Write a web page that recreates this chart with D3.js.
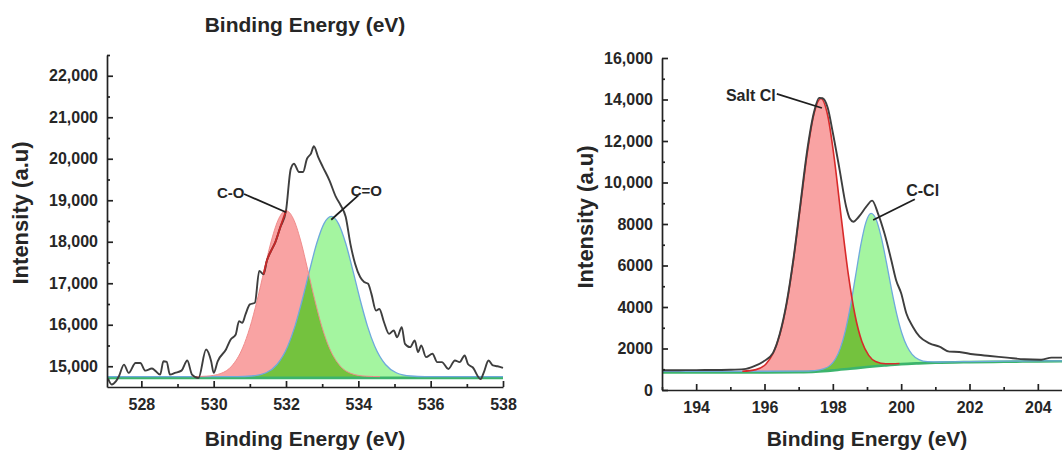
<!DOCTYPE html>
<html>
<head>
<meta charset="utf-8">
<script src="https://cdn.jsdelivr.net/npm/d3@7"></script>
<style>
body { margin: 0; background: #fff; }
text { font-family: "Liberation Sans", Arial, sans-serif; font-weight: bold; fill: #262626; }
</style>
</head>
<body>
<script>
// ---- O 1s panel (left) ----
var o1sRawX = [527.08,527.18,527.3,527.38,527.52,527.65,527.84,527.97,528.11,528.29,528.38,528.52,528.61,528.7,528.79,528.93,529.11,529.27,529.4,529.58,529.79,529.93,530.0,530.11,530.34,530.47,530.61,530.7,530.79,530.88,531.0,531.14,531.26,531.38,531.47,531.61,531.7,531.84,532.0,532.13,532.22,532.36,532.47,532.58,532.69,532.77,532.89,533.02,533.2,533.38,533.51,533.65,533.78,533.91,534.05,534.16,534.27,534.36,534.49,534.58,534.71,534.85,534.98,535.07,535.2,535.29,535.43,535.56,535.65,535.74,535.87,536.05,536.18,536.31,536.49,536.67,536.8,536.94,537.03,537.16,537.38,537.47,537.6,537.72,537.85,538.0];
var o1sRawY = [14700,14560,14640,14758,15040,14840,15080,15080,14895,14944,14895,14800,15120,15105,14800,14840,14895,15137,14800,14718,15403,15120,14840,15120,15403,15645,15766,16088,16048,16250,16490,16530,17297,17216,17540,17820,17980,18345,18750,19750,19880,19680,19680,20000,20125,20300,20040,19800,19480,19080,18880,18600,17950,17470,17150,17030,16990,16750,16340,16380,16060,15780,15860,15700,15940,15540,15460,15620,15340,15500,15220,15300,15100,15100,14935,15140,15100,15260,15055,14975,14690,14855,15140,15020,15000,14960];
// raw trace drawn in red where it runs along the C-O edge
var o1sRedSegment = [531.38, 532.0];

var coX = [529.4,529.8,530.2,530.5,530.8,531.0,531.2,531.4,531.6,531.8,532.0,532.2,532.4,532.6,532.8,533.0,533.2,533.5,533.8,534.2,534.6];
var coY = [14750,14761,14827,15006,15440,15930,16582,17327,18041,18559,18750,18559,18041,17327,16582,15930,15440,15006,14827,14761,14750];

var c2oX = [527.05,530.65,531.05,531.45,531.75,532.05,532.25,532.45,532.65,532.85,533.05,533.25,533.45,533.65,533.85,534.05,534.25,534.45,534.75,535.05,535.45,535.85,538.0];
var c2oY = [14750,14752,14765,14844,15042,15489,15974,16602,17304,17963,18437,18610,18437,17963,17304,16602,15974,15489,15042,14844,14765,14752,14750];

var o1sBaseX = [527.05, 538.0];
var o1sBaseY = [14720, 14720];

var o1sXTicks = [528,530,532,534,536,538];
var o1sXMinor = [529,531,533,535,537];
var o1sYTicks = [15000,16000,17000,18000,19000,20000,21000,22000];
var o1sYMinor = [15500,16500,17500,18500,19500,20500,21500,22500];

var o1sLabels = ["C-O", "C=O"];
var o1sLabelX = [530.47, 534.22];
var o1sLabelY = [19190, 19240];
var o1sLeadX1 = [530.84, 534.0], o1sLeadY1 = [19150, 19118];
var o1sLeadX2 = [532.0, 533.25], o1sLeadY2 = [18710, 18530];

// ---- Cl 2p panel (right) ----
var cl2pRawX = [193.0,193.5,194.0,194.5,195.0,195.4,195.7,195.96,196.25,196.45,196.65,196.85,197.05,197.25,197.45,197.6,197.7,197.85,198.0,198.2,198.39,198.5,198.6,198.76,198.98,199.15,199.32,199.51,199.71,199.85,200.0,200.15,200.34,200.54,200.83,201.12,201.41,201.7,202.1,202.6,203.1,203.6,204.1,204.4,204.7,205.0];
var cl2pRawY = [955,955,960,965,975,1005,1150,1365,1790,2720,4220,6350,8950,11550,13400,14080,14060,13600,12400,10600,8835,8250,8110,8350,8835,9125,8515,7550,6265,5300,4660,3700,3050,2570,2250,2090,1850,1830,1720,1640,1560,1480,1460,1560,1560,1520];

var saltX = [195.35,195.75,196.05,196.25,196.45,196.65,196.85,197.05,197.25,197.45,197.65,197.85,198.05,198.25,198.45,198.65,198.85,199.05,199.25,199.55,199.95];
var saltY = [900,981,1269,1758,2672,4166,6287,8850,11408,13318,14045,13227,11057,8256,5610,3603,2338,1670,1378,1266,1280];

var cclX = [193.0,195.0,197.12,197.47,197.72,197.92,198.07,198.22,198.37,198.52,198.67,198.82,198.97,199.12,199.27,199.42,199.57,199.72,199.87,200.02,200.17,200.32,200.52,200.77,201.12,201.5,202.0,203.0,204.0,205.0];
var cclY = [900,902,908,936,1014,1187,1483,2018,2877,4090,5549,7001,8089,8509,8208,7345,6133,4830,3659,2738,2105,1719,1467,1366,1350,1358,1372,1387,1400,1410];

var cl2pBaseX = [193,196,197,197.5,198,198.5,199,199.5,200,200.5,201,202,203,204,205];
var cl2pBaseY = [840,850,862,885,945,1025,1105,1180,1245,1285,1315,1345,1362,1378,1390];

var cl2pXTicks = [194,196,198,200,202,204];
var cl2pXMinor = [193,195,197,199,201,203,205];
var cl2pYTicks = [0,2000,4000,6000,8000,10000,12000,14000,16000];
var cl2pYMinor = [1000,3000,5000,7000,9000,11000,13000,15000];

var cl2pLabels = ["Salt Cl", "C-Cl"];
var cl2pLabelX = [195.6, 200.63];
var cl2pLabelY = [14220, 9640];
var cl2pLeadX1 = [196.36, 200.4], cl2pLeadY1 = [14270, 9190];
var cl2pLeadX2 = [197.68, 199.18], cl2pLeadY2 = [13590, 8190];

var width = 1062, height = 453;

var svg = d3.select("body").append("svg")
    .attr("width", width)
    .attr("height", height);

function zip(xs, ys) {
  return xs.map(function(v, i) { return [v, ys[i]]; });
}

function bigFormat(d) {
  return d >= 10000 ? d3.format(",")(d) : d3.format("d")(d);
}

function drawPanel(p) {
  var x = d3.scaleLinear().domain(p.xDomain).range(p.xRange);
  var y = d3.scaleLinear().domain(p.yDomain).range(p.yRange);
  // piecewise-linear background (green line) under the peaks
  var base = d3.scaleLinear().domain(p.baseX).range(p.baseY).clamp(true);

  var g = svg.append("g").attr("class", p.id);

  var line = d3.line()
      .x(function(d) { return x(d[0]); })
      .y(function(d) { return y(d[1]); })
      .curve(d3.curveMonotoneX);
  var area = d3.area()
      .x(function(d) { return x(d[0]); })
      .y0(function(d) { return y(base(d[0])); })
      .y1(function(d) { return y(d[1]); })
      .curve(d3.curveMonotoneX);

  var peakA = zip(p.peakAX, p.peakAY),
      peakB = zip(p.peakBX, p.peakBY),
      raw = zip(p.rawX, p.rawY),
      bg = zip(p.baseX, p.baseY);

  g.append("clipPath").attr("id", p.id + "-red")
    .append("path").attr("d", area(peakA));

  g.append("path").attr("d", area(peakA)).attr("fill", "#f9a3a3");
  g.append("path").attr("d", area(peakB)).attr("fill", "#a4f5a0");
  // overlap of the two components
  g.append("path").attr("d", area(peakB)).attr("fill", "#74c23e")
    .attr("clip-path", "url(#" + p.id + "-red)");

  g.append("path").attr("d", line(bg))
    .attr("fill", "none").attr("stroke", "#3cb46c").attr("stroke-width", 2.6);
  g.append("path").attr("d", line(peakB))
    .attr("fill", "none").attr("stroke", "#6ea9dc").attr("stroke-width", 1.3);
  g.append("path").attr("d", line(peakA))
    .attr("fill", "none").attr("stroke", p.redEdge).attr("stroke-width", p.redEdgeWidth);

  g.append("path").attr("d", line(raw))
    .attr("fill", "none").attr("stroke", "#3e3e3e").attr("stroke-width", 1.9)
    .attr("stroke-linejoin", "round");
  if (p.redSegment) {
    var seg = raw.filter(function(d) { return d[0] >= p.redSegment[0] && d[0] <= p.redSegment[1]; });
    g.append("path").attr("d", line(seg))
      .attr("fill", "none").attr("stroke", "#c62828").attr("stroke-width", 1.9);
  }

  // peak labels with leader lines
  p.labels.forEach(function(t, i) {
    g.append("line")
      .attr("x1", x(p.leadX1[i])).attr("y1", y(p.leadY1[i]))
      .attr("x2", x(p.leadX2[i])).attr("y2", y(p.leadY2[i]))
      .attr("stroke", "#1e1e1e").attr("stroke-width", 1.8);
    g.append("text")
      .attr("x", x(p.labelX[i])).attr("y", y(p.labelY[i]))
      .attr("dy", "0.35em")
      .attr("text-anchor", "middle")
      .attr("font-size", p.labelSize)
      .text(t);
  });

  // axes, ticks pointing inwards
  var xAxis = g.append("g")
      .attr("transform", "translate(0," + p.yRange[0] + ")")
      .call(d3.axisBottom(x).tickValues(p.xTicks).tickSize(-6).tickSizeOuter(0)
        .tickPadding(12).tickFormat(d3.format("d")));
  var xMinor = g.append("g")
      .attr("transform", "translate(0," + p.yRange[0] + ")")
      .call(d3.axisBottom(x).tickValues(p.xMinor).tickSize(-3).tickFormat(""));
  xMinor.select(".domain").remove();

  var yAxis = g.append("g")
      .attr("transform", "translate(" + p.xRange[0] + ",0)")
      .call(d3.axisLeft(y).tickValues(p.yTicks).tickSize(-6).tickSizeOuter(0)
        .tickPadding(9).tickFormat(p.yFormat));
  var yMinor = g.append("g")
      .attr("transform", "translate(" + p.xRange[0] + ",0)")
      .call(d3.axisLeft(y).tickValues(p.yMinor).tickSize(-3).tickFormat(""));
  yMinor.select(".domain").remove();

  [xAxis, yAxis, xMinor, yMinor].forEach(function(a) {
    a.attr("font-family", null).attr("font-size", null);
    a.selectAll("path, line").attr("stroke", "#222").attr("stroke-width", 1.7);
    a.selectAll("text").attr("font-size", 16);
  });

  g.append("text")
    .attr("x", (p.xRange[0] + p.xRange[1]) / 2).attr("y", 446)
    .attr("text-anchor", "middle").attr("font-size", 21)
    .text("Binding Energy (eV)");

  g.append("text")
    .attr("transform", "translate(" + p.yTitleX + "," + p.yTitleY + ") rotate(-90)")
    .attr("text-anchor", "middle").attr("font-size", 22)
    .text("Intensity (a.u)");

  if (p.topTitle) {
    g.append("text")
      .attr("x", (p.xRange[0] + p.xRange[1]) / 2).attr("y", 32)
      .attr("text-anchor", "middle").attr("font-size", 21)
      .text("Binding Energy (eV)");
  }
}

drawPanel({
  id: "o1s",
  xDomain: [527.05, 538], xRange: [107, 503],
  yDomain: [14500, 22500], yRange: [387, 55],
  rawX: o1sRawX, rawY: o1sRawY, redSegment: o1sRedSegment,
  peakAX: coX, peakAY: coY, peakBX: c2oX, peakBY: c2oY,
  baseX: o1sBaseX, baseY: o1sBaseY,
  redEdge: "#f08c8c", redEdgeWidth: 1,
  xTicks: o1sXTicks, xMinor: o1sXMinor, yTicks: o1sYTicks, yMinor: o1sYMinor,
  yFormat: d3.format(","),
  labels: o1sLabels, labelX: o1sLabelX, labelY: o1sLabelY,
  leadX1: o1sLeadX1, leadY1: o1sLeadY1, leadX2: o1sLeadX2, leadY2: o1sLeadY2,
  labelSize: 15,
  yTitleX: 28, yTitleY: 213,
  topTitle: true
});

drawPanel({
  id: "cl2p",
  xDomain: [193, 205], xRange: [662, 1072],
  yDomain: [0, 16000], yRange: [390, 58],
  rawX: cl2pRawX, rawY: cl2pRawY,
  peakAX: saltX, peakAY: saltY, peakBX: cclX, peakBY: cclY,
  baseX: cl2pBaseX, baseY: cl2pBaseY,
  redEdge: "#d82a2a", redEdgeWidth: 1.6,
  xTicks: cl2pXTicks, xMinor: cl2pXMinor, yTicks: cl2pYTicks, yMinor: cl2pYMinor,
  yFormat: bigFormat,
  labels: cl2pLabels, labelX: cl2pLabelX, labelY: cl2pLabelY,
  leadX1: cl2pLeadX1, leadY1: cl2pLeadY1, leadX2: cl2pLeadX2, leadY2: cl2pLeadY2,
  labelSize: 16,
  yTitleX: 593, yTitleY: 217,
  topTitle: false
});
</script>
</body>
</html>
